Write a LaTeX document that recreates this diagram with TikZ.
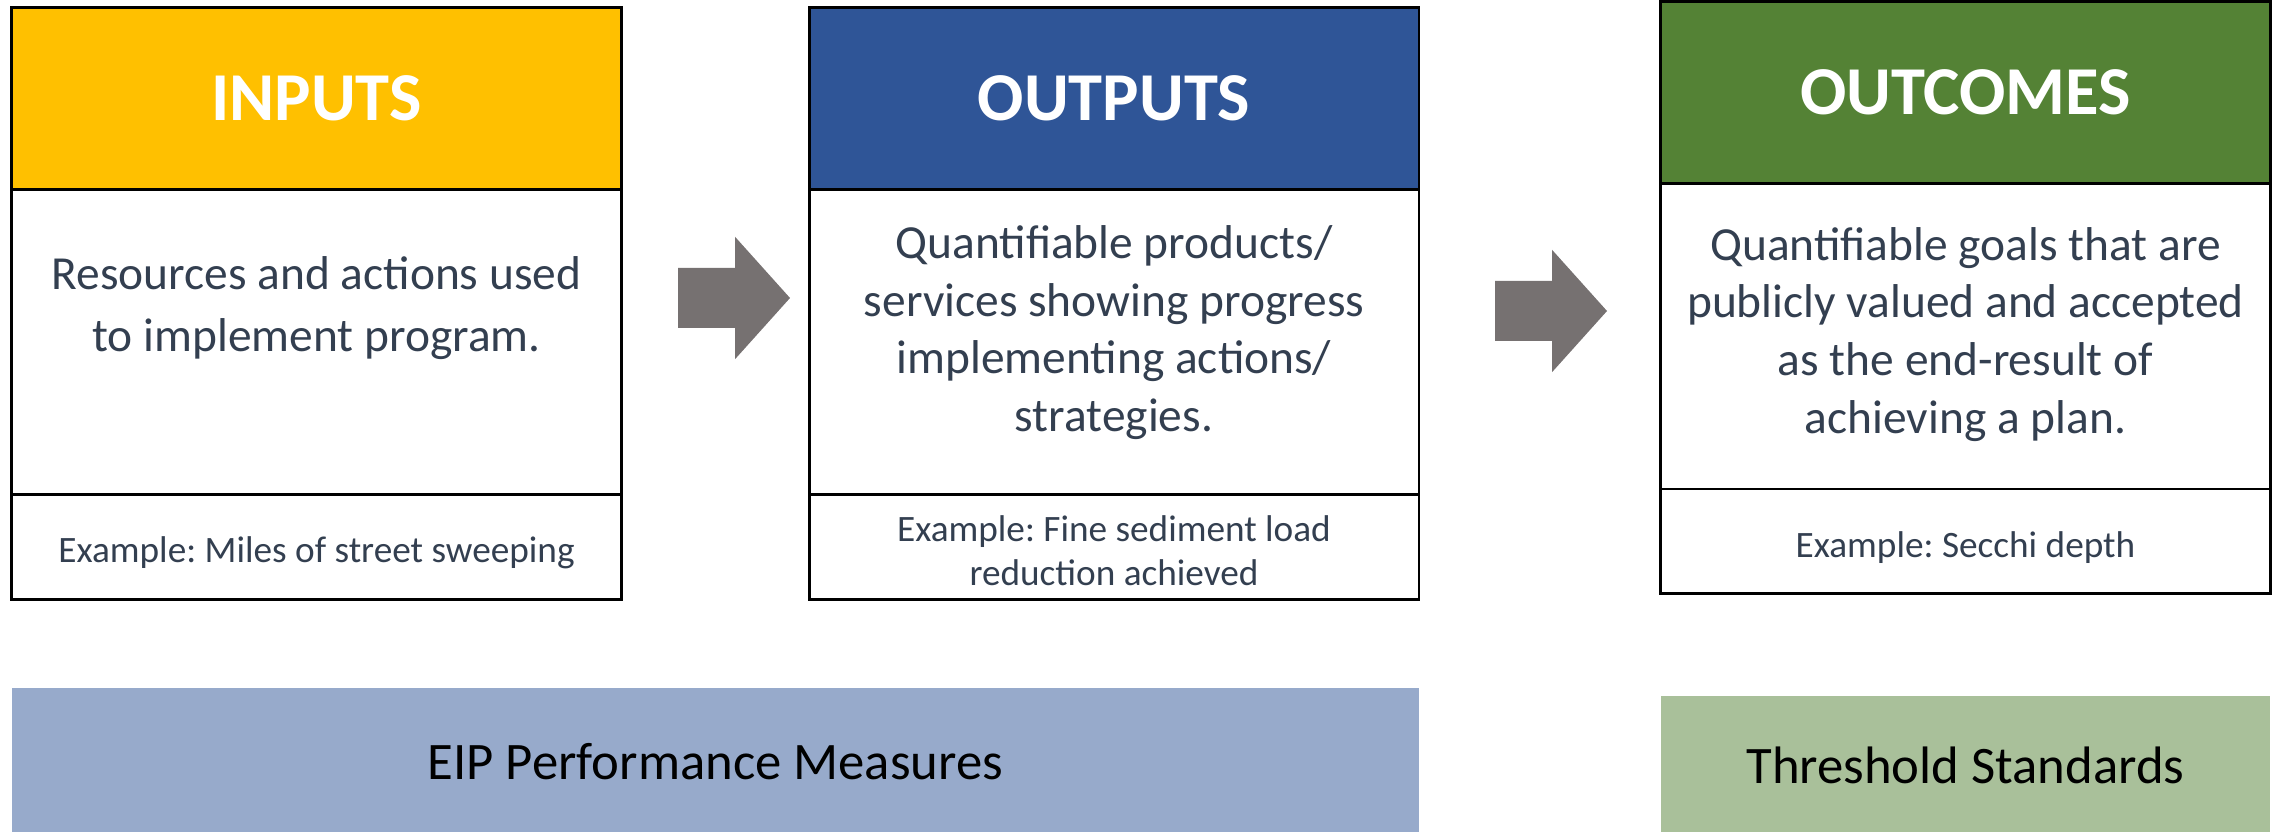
\documentclass[tikz,border=0pt]{standalone}
\usepackage{fontspec}
\setmainfont{Carlito}
\usepackage{xcolor}
\usetikzlibrary{positioning}
\frenchspacing

\definecolor{inputgold}{HTML}{FFC000}
\definecolor{outputblue}{HTML}{2F5597}
\definecolor{outcomegreen}{HTML}{548235}
\definecolor{measureblue}{HTML}{97AACB}
\definecolor{standardgreen}{HTML}{A9C09A}
\definecolor{arrowgray}{HTML}{767171}
\definecolor{slatetext}{HTML}{333F50}

\begin{document}
\begin{tikzpicture}[
  cell/.style={draw=black, line width=0.8pt, minimum width=6.098cm,
               inner sep=0pt, outer sep=0pt},
  head/.style={cell, minimum height=1.819cm, text=white,
               font=\bfseries\fontsize{19.5}{23}\selectfont},
  body/.style={cell, minimum height=3.056cm},
  example/.style={cell, minimum height=1.048cm},
  extext/.style={align=center, text=slatetext, font=\fontsize{10.6}{12.5}\selectfont},
  desc/.style={align=center, text=slatetext, font=\fontsize{13.5}{16.4}\selectfont},
  band/.style={inner sep=0pt, outer sep=0pt, text height=2.4ex,
               font=\fontsize{15}{18}\selectfont},
  blockarrow/.style={fill=arrowgray},
]
\useasboundingbox (0,0) rectangle (22.82,-8.32);

% three stacked columns
\node[head, fill=inputgold] (inputs) at (3.165,-0.983) {INPUTS};
\node[body, below=0pt of inputs] (inputsbody) {};
\node[example, below=0pt of inputsbody] (inputsex) {};
\node[desc, font=\fontsize{13.5}{17.4}\selectfont] (inputstext)
  at ([yshift=0.34cm]inputsbody.center)
  {Resources and actions used\\to implement program.};
\node[extext] (inputsexample) at ([yshift=-0.06cm]inputsex.center)
  {Example: Miles of street sweeping};

\node[head, fill=outputblue] (outputs) at (11.14,-0.983) {OUTPUTS};
\node[body, below=0pt of outputs] (outputsbody) {};
\node[example, below=0pt of outputsbody] (outputsex) {};
\node[desc] (outputstext) at ([yshift=0.095cm]outputsbody.center)
  {Quantifiable products/\\services showing progress\\implementing actions/\\strategies.};
\node[extext] (outputsexample) at ([yshift=-0.03cm]outputsex.center)
  {Example: Fine sediment load\\reduction achieved};

\node[head, fill=outcomegreen] (outcomes) at (19.655,-0.925) {OUTCOMES};
\node[body, below=0pt of outcomes] (outcomesbody) {};
\node[example, below=0pt of outcomesbody] (outcomesex) {};
\node[desc] (outcomestext) at ([yshift=0.02cm]outcomesbody.center)
  {Quantifiable goals that are\\publicly valued and accepted\\as the end-result of\\achieving a plan.};
\node[extext] (outcomesexample) at ([yshift=-0.06cm]outcomesex.center)
  {Example: Secchi depth};

% block arrows between columns
\fill[blockarrow, shift={(6.78,-2.98)}]
  (0,0.30) -- (0.57,0.30) -- (0.57,0.6125) -- (1.12,0)
  -- (0.57,-0.6125) -- (0.57,-0.30) -- (0,-0.30) -- cycle;
\fill[blockarrow, shift={(14.95,-3.11)}]
  (0,0.30) -- (0.57,0.30) -- (0.57,0.6125) -- (1.12,0)
  -- (0.57,-0.6125) -- (0.57,-0.30) -- (0,-0.30) -- cycle;

% bands along the bottom
\node[band, fill=measureblue, minimum width=14.074cm, minimum height=1.44cm]
  (measures) at (7.153,-7.60) {EIP Performance Measures};
\node[band, fill=standardgreen, minimum width=6.098cm, minimum height=1.363cm]
  (standards) at (19.655,-7.639) {Threshold Standards};
\end{tikzpicture}
\end{document}
